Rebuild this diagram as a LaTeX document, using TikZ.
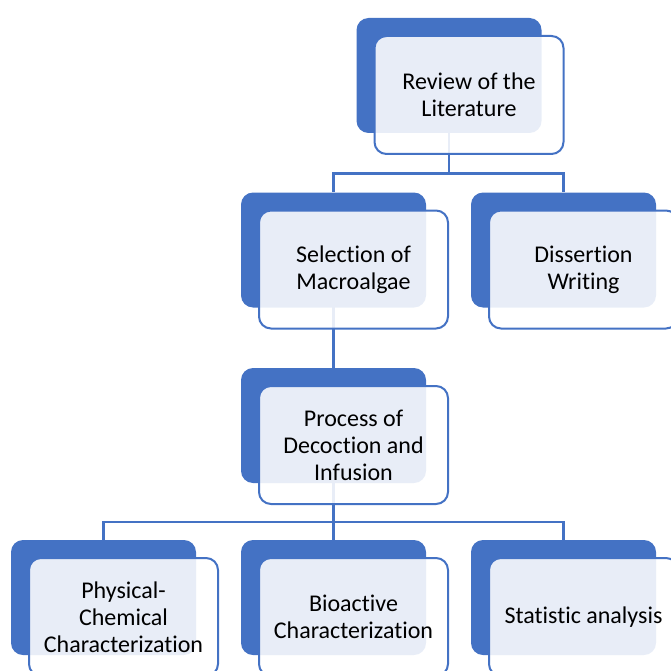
\documentclass[tikz,border=0pt]{standalone}
\usepackage{fontspec}
\setmainfont{Carlito}[Ligatures=NoCommon]
\usetikzlibrary{positioning}
\definecolor{boxblue}{HTML}{4472C4}

\begin{document}
\begin{tikzpicture}[x=1pt,y=-1pt,node distance=230pt,on grid,
    back/.style={rectangle,rounded corners=12pt,fill=boxblue,minimum width=185pt,minimum height=115pt},
    front/.style={rectangle,rounded corners=12pt,draw=boxblue,line width=2pt,fill=white,fill opacity=0.88,text opacity=1,
      minimum width=189pt,minimum height=118pt,align=center,font=\fontsize{24}{27}\selectfont},
    link/.style={draw=boxblue,line width=2.25pt}]
  \useasboundingbox (0,0) rectangle (670,671);
  % back boxes
  \node[back] (revB) at (449,75.5) {};
  \node[back] (selB) at (333.5,250) {};
  \node[back,right=of selB] (disB) {};
  \node[back,below=175.5pt of selB] (procB) {};
  \node[back,below=172pt of procB] (bioB) {};
  \node[back,left=of bioB] (physB) {};
  \node[back,right=of bioB] (statB) {};
  % connectors
  \coordinate (bus1) at (0,173.5);
  \coordinate (bus2) at (0,522);
  \draw[link] (revB.center) -- (revB |- bus1) -| (selB.north);
  \draw[link] (revB |- bus1) -| (disB.north);
  \draw[link] (selB.center) -- (procB.north);
  \draw[link] (procB.center) -- (procB |- bus2) -| (physB.north);
  \draw[link] (procB |- bus2) -- (bioB.north);
  \draw[link] (procB |- bus2) -| (statB.north);
  % front boxes
  \node[front] (revF) at ([shift={(20,19.5)}]revB) {Review of the\\Literature};
  \node[front] (selF) at ([shift={(20,19.5)}]selB) {Selection of\\Macroalgae};
  \node[front] (disF) at ([shift={(20,19.5)}]disB) {Dissertion\\Writing};
  \node[front] (procF) at ([shift={(20,19.5)}]procB) {Process of\\Decoction and\\Infusion};
  \node[front] (physF) at ([shift={(20,19.5)}]physB) {Physical-\\Chemical\\Characterization};
  \node[front] (bioF) at ([shift={(20,19.5)}]bioB) {Bioactive\\Characterization};
  \node[front] (statF) at ([shift={(20,19.5)}]statB) {Statistic analysis};
\end{tikzpicture}
\end{document}
